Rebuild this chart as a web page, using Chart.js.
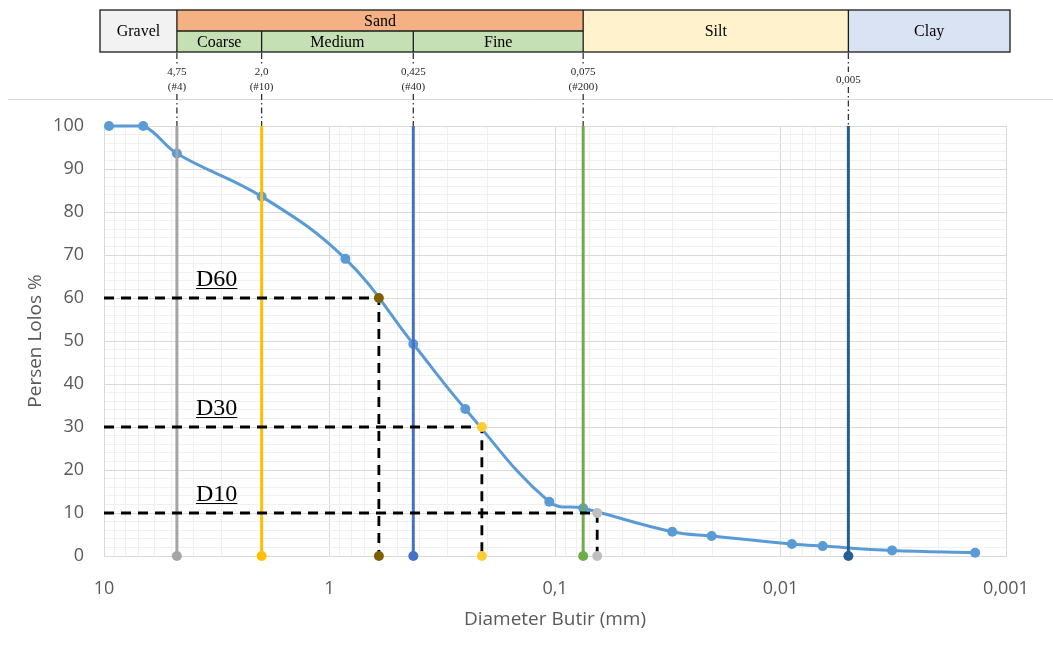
<!DOCTYPE html>
<html>
<head>
<meta charset="utf-8">
<script src="https://cdn.jsdelivr.net/npm/chart.js@4.4.1/dist/chart.umd.min.js"></script>
<style>
  html, body { margin: 0; padding: 0; background: #fff; }
  #wrap { width: 1053px; height: 655px; }
</style>
</head>
<body>
<div id="wrap"><canvas id="grain" width="1053" height="655"></canvas></div>
<script>
// sieve + hydrometer results
const diameters = [9.5, 6.7, 4.75, 2.0, 0.85, 0.425, 0.25, 0.106, 0.075, 0.0302, 0.0202, 0.0089, 0.0065, 0.0032, 0.00137];
const percentPassing = [100, 100, 93.6, 83.6, 69.1, 49.3, 34.2, 12.6, 11.1, 5.65, 4.65, 2.8, 2.3, 1.3, 0.77];

// class boundaries
const sieveSizes = [4.75, 2.0, 0.425, 0.075, 0.005];
const sieveLabels = [['4,75', '(#4)'], ['2,0', '(#10)'], ['0,425', '(#40)'], ['0,075', '(#200)'], ['0,005']];
const sieveColors = ['#a5a5a5', '#ffc000', '#4472c4', '#70ad47', '#255e91'];

// effective sizes
const dNames = ['D60', 'D30', 'D10'];
const dPercent = [60, 30, 10];
const dDiameter = [0.604, 0.211, 0.065];
const dColors = ['#7f6000', '#ffcc33', '#bfbfbf'];

const xTickValues = [10, 1, 0.1, 0.01, 0.001];
const xTickLabels = ['10', '1', '0,1', '0,01', '0,001'];

const soilClasses = ['Gravel', 'Sand', 'Silt', 'Clay'];
const sandParts = ['Coarse', 'Medium', 'Fine'];

const GRID_MAJOR = '#d9d9d9';
const GRID_MINOR = '#f0f0f0';
const TEXT = '#595959';
const SERIF = '"Liberation Serif", "Times New Roman", serif';
const SANS = '"Open Sans", sans-serif';

const datasets = [];

datasets.push({
  label: 'Persen Lolos',
  data: diameters.map((d, i) => ({ x: d, y: percentPassing[i] })),
  showLine: true,
  tension: 0.4,
  borderColor: '#5b9bd5',
  backgroundColor: '#5b9bd5',
  borderWidth: 3,
  pointRadius: 5,
  pointBorderWidth: 0,
  clip: false,
  order: 3
});

sieveSizes.forEach((s, i) => {
  datasets.push({
    label: sieveLabels[i][0],
    data: [{ x: s, y: 0 }, { x: s, y: 100 }],
    showLine: true,
    borderColor: sieveColors[i],
    backgroundColor: sieveColors[i],
    borderWidth: 3,
    pointRadius: [5, 0],
    pointBorderWidth: 0,
    clip: false,
    order: 2
  });
});

dNames.forEach((name, i) => {
  datasets.push({
    label: name,
    data: [
      { x: 10, y: dPercent[i] },
      { x: dDiameter[i], y: dPercent[i] },
      { x: dDiameter[i], y: 0 }
    ],
    showLine: true,
    borderColor: '#000',
    borderDash: [10, 7],
    borderWidth: 2.8,
    pointRadius: [0, 5, 5],
    pointBackgroundColor: dColors[i],
    pointBorderWidth: 0,
    clip: false,
    order: 1
  });
});

function isDecade(v) {
  return xTickValues.some(t => Math.abs(t - v) / t < 1e-6);
}

function fillCell(ctx, x0, y0, x1, y1, color) {
  ctx.fillStyle = color;
  ctx.fillRect(x0, y0, x1 - x0, y1 - y0);
}

function line(ctx, x0, y0, x1, y1) {
  ctx.beginPath();
  ctx.moveTo(x0, y0);
  ctx.lineTo(x1, y1);
  ctx.stroke();
}

// soil classification strip, sieve markers and D-labels
const annotations = {
  id: 'annotations',
  afterDraw(chart) {
    const { ctx, scales: { x, y } } = chart;
    const px = sieveSizes.map(s => x.getPixelForValue(s));
    const left = x.left - 4, right = x.right + 4;
    const top = 10, mid = 31, bottom = 52;

    ctx.save();

    // chart frame line
    ctx.strokeStyle = GRID_MAJOR;
    ctx.lineWidth = 1;
    line(ctx, 8, 99.5, 1053, 99.5);

    fillCell(ctx, left, top, px[0], bottom, '#f2f2f2');
    fillCell(ctx, px[0], top, px[3], mid, '#f4b183');
    fillCell(ctx, px[0], mid, px[3], bottom, '#c5e0b4');
    fillCell(ctx, px[3], top, px[4], bottom, '#fff2cc');
    fillCell(ctx, px[4], top, right, bottom, '#dae3f3');

    ctx.strokeStyle = '#1a1a1a';
    ctx.lineWidth = 1.3;
    ctx.strokeRect(left, top, right - left, bottom - top);
    [px[0], px[3], px[4]].forEach(p => line(ctx, p, top, p, bottom));
    line(ctx, px[0], mid, px[3], mid);
    [px[1], px[2]].forEach(p => line(ctx, p, mid, p, bottom));

    ctx.fillStyle = '#000';
    ctx.textAlign = 'center';
    ctx.textBaseline = 'middle';
    ctx.font = '16px ' + SERIF;
    ctx.fillText(soilClasses[0], (left + px[0]) / 2, (top + bottom) / 2 + 1);
    ctx.fillText(soilClasses[1], (px[0] + px[3]) / 2, (top + mid) / 2 + 1);
    ctx.fillText(soilClasses[2], (px[3] + px[4]) / 2, (top + bottom) / 2 + 1);
    ctx.fillText(soilClasses[3], (px[4] + right) / 2, (top + bottom) / 2 + 1);
    const partEdges = [px[0], px[1], px[2], px[3]];
    sandParts.forEach((p, i) => {
      ctx.fillText(p, (partEdges[i] + partEdges[i + 1]) / 2, (mid + bottom) / 2 + 1);
    });

    // sieve size labels with dash-dot leaders
    ctx.font = '11px ' + SERIF;
    ctx.fillStyle = '#262626';
    ctx.strokeStyle = '#333';
    ctx.lineWidth = 1.3;
    ctx.setLineDash([6, 3, 1.5, 3]);
    px.forEach((p, i) => {
      const lbl = sieveLabels[i];
      if (lbl.length === 2) {
        ctx.fillText(lbl[0], p, 72);
        ctx.fillText(lbl[1], p, 87);
        line(ctx, p, bottom + 1, p, 66);
        line(ctx, p, 94, p, y.top);
      } else {
        ctx.fillText(lbl[0], p, 80);
        line(ctx, p, bottom + 1, p, 72);
        line(ctx, p, 87, p, y.top);
      }
    });
    ctx.setLineDash([]);

    // D60 / D30 / D10 captions
    ctx.font = '24px ' + SERIF;
    ctx.fillStyle = '#000';
    ctx.strokeStyle = '#000';
    ctx.textAlign = 'left';
    ctx.textBaseline = 'alphabetic';
    ctx.lineWidth = 1.2;
    dNames.forEach((name, i) => {
      const tx = x.left + 92;
      const ty = y.getPixelForValue(dPercent[i]) - 12;
      const w = ctx.measureText(name).width;
      ctx.fillText(name, tx, ty);
      line(ctx, tx, ty + 2.5, tx + w, ty + 2.5);
    });

    ctx.restore();
  }
};

new Chart(document.getElementById('grain'), {
  type: 'scatter',
  data: { datasets },
  plugins: [annotations],
  options: {
    responsive: false,
    animation: false,
    layout: { padding: { left: 24, right: 47, top: 126, bottom: 22 } },
    plugins: {
      legend: { display: false },
      tooltip: { enabled: false }
    },
    scales: {
      x: {
        type: 'logarithmic',
        reverse: true,
        min: 0.001,
        max: 10,
        afterBuildTicks(scale) {
          const ticks = [];
          xTickValues.slice(1).reverse().forEach(base => {
            for (let k = 1; k <= 9; k++) ticks.push({ value: base * k });
          });
          ticks.push({ value: xTickValues[0] });
          scale.ticks = ticks;
        },
        afterFit(scale) { scale.height = 77; },
        ticks: {
          autoSkip: false,
          maxRotation: 0,
          padding: 22,
          color: TEXT,
          font: { family: SANS, size: 18 },
          callback(v) {
            const k = xTickValues.findIndex(t => Math.abs(t - v) / t < 1e-6);
            return k >= 0 ? xTickLabels[k] : '';
          }
        },
        grid: {
          drawTicks: false,
          color: c => (c.tick && isDecade(c.tick.value) ? GRID_MAJOR : GRID_MINOR)
        },
        border: { color: GRID_MAJOR },
        title: {
          display: true,
          text: 'Diameter Butir (mm)',
          color: TEXT,
          font: { family: SANS, size: 19 },
          padding: { top: 0, bottom: 2 }
        }
      },
      y: {
        min: 0,
        max: 100,
        afterFit(scale) { scale.width = 80; },
        ticks: {
          stepSize: 2,
          autoSkip: false,
          padding: 20,
          color: TEXT,
          font: { family: SANS, size: 18 },
          callback: v => (v % 10 === 0 ? v : '')
        },
        grid: {
          drawTicks: false,
          color: c => (c.tick && c.tick.value % 10 === 0 ? GRID_MAJOR : GRID_MINOR)
        },
        border: { color: GRID_MAJOR },
        title: {
          display: true,
          text: 'Persen Lolos %',
          color: TEXT,
          font: { family: SANS, size: 19 },
          padding: { top: 0, bottom: 0 }
        }
      }
    }
  }
});
</script>
</body>
</html>
